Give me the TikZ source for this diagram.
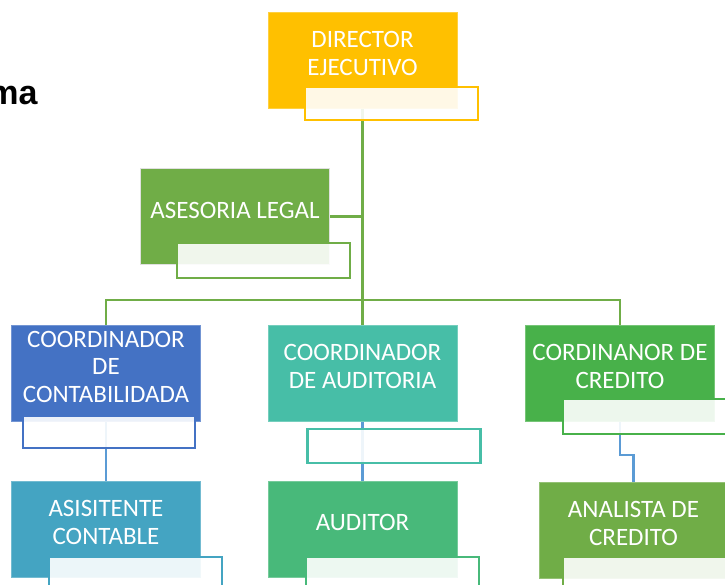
\documentclass[tikz,border=0pt]{standalone}
\usepackage{fontspec}
\setmainfont{Carlito}
\newfontfamily\titlefont{Liberation Sans}
\usetikzlibrary{backgrounds}

\definecolor{oro}{HTML}{FFC000}
\definecolor{verde}{HTML}{70AD47}
\definecolor{azulrey}{HTML}{4472C4}
\definecolor{turquesa}{HTML}{47BEA7}
\definecolor{verdecred}{HTML}{48B14A}
\definecolor{celeste}{HTML}{44A4C2}
\definecolor{verdeaud}{HTML}{48B97A}
\definecolor{azul}{HTML}{5B9BD5}

\begin{document}
\begin{tikzpicture}
[x=1pt,y=-1pt,%
  cargo/.style={shape=rectangle,fill=#1,draw=#1!75!white,line width=0.8pt,%
    minimum width=189pt,minimum height=96pt,inner sep=0pt},%
  nota/.style={shape=rectangle,draw=#1,line width=2.2pt,fill=white,fill opacity=0.9,%
    minimum width=173pt,minimum height=33pt,inner sep=0pt},%
  rotulo/.style={text=white,align=center,yshift=6.5pt,%
    font=\fontsize{25}{27.5}\selectfont},%
  rama/.style={draw=verde,line width=2.8pt},%
  enlace/.style={draw=azul,line width=2.4pt}]
\useasboundingbox (0,0) rectangle (725,585);
\node[anchor=base east,font=\titlefont\bfseries\fontsize{34}{40}\selectfont] (titulo) at (41,105) {ma};
%%
\node[cargo=oro,label={[rotulo]center:{DIRECTOR\\EJECUTIVO}}] (director) at (362.5,60) {};
\node[nota=oro] (director-nota) at (391.5,103.5) {};
%%
\node[cargo=verde,draw=black!12,label={[rotulo]center:{ASESORIA LEGAL}}] (asesoria) at (235,216.5) {};
\node[nota=verde,minimum height=35pt] (asesoria-nota) at (263.5,260.5) {};
%%
\node[cargo=azulrey,label={[rotulo]center:{COORDINADOR\\DE\\CONTABILIDADA}}] (contabilidad) at (106,373) {};
\node[nota=azulrey,minimum width=172pt,minimum height=32pt] (contabilidad-nota) at (109,432) {};
%%
\node[cargo=turquesa,label={[rotulo]center:{COORDINADOR\\DE AUDITORIA}}] (auditoria) at (362.5,373) {};
\node[nota=turquesa,minimum height=34pt] (auditoria-nota) at (394,446) {};
%%
\node[cargo=verdecred,label={[rotulo]center:{CORDINANOR DE\\CREDITO}}] (credito) at (620,373) {};
\node[nota=verdecred,minimum height=35pt] (credito-nota) at (649.5,416.5) {};
%%
\node[cargo=celeste,label={[rotulo]center:{ASISITENTE\\CONTABLE}}] (asistente) at (106,529) {};
\node[nota=celeste] (asistente-nota) at (135.5,573.5) {};
%%
\node[cargo=verdeaud,label={[rotulo]center:{AUDITOR}}] (auditor) at (362.5,529) {};
\node[nota=verdeaud] (auditor-nota) at (392.5,573.5) {};
%%
\node[cargo=verde,label={[rotulo]center:{ANALISTA DE\\CREDITO}}] (analista) at (633.5,530) {};
\node[nota=verde] (analista-nota) at (649.5,573.5) {};
%%
\coordinate (bus) at (362.5,300);
\coordinate (codo) at (627,455);
\begin{pgfonlayer}{background}
\draw[rama] (director.south) -- (auditoria.north);
\draw[rama] (asesoria.east) -- (asesoria.east -| director.south);
\draw[rama] (contabilidad.north) |- (bus) -| (credito.north);
\foreach \arriba/\abajo in {contabilidad/asistente, auditoria/auditor}
{
  \draw[enlace] (\arriba.south) -- (\abajo.north);
}
\draw[enlace] (credito.south) |- (codo) -| (analista.north);
\end{pgfonlayer}
\end{tikzpicture}
\end{document}
